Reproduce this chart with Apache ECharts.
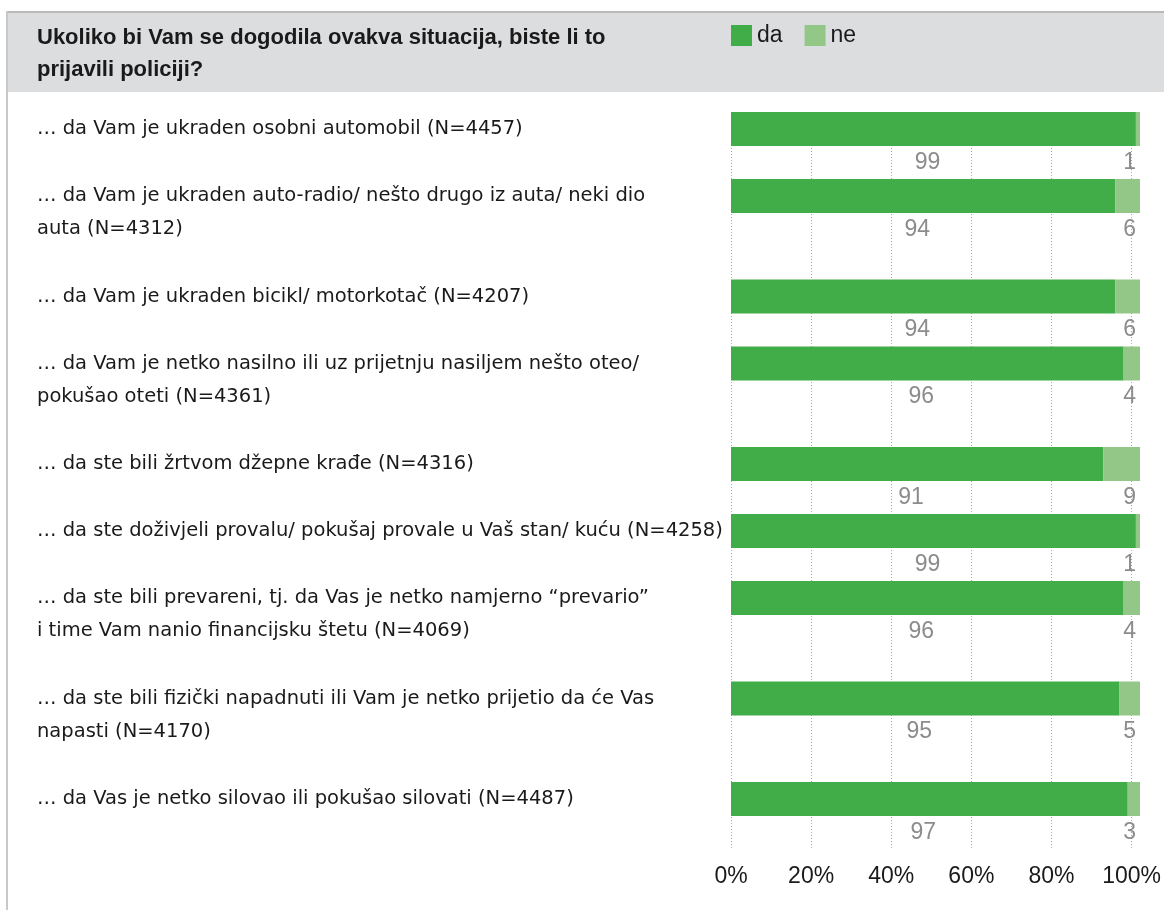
<!DOCTYPE html>
<html>
<head>
<meta charset="utf-8">
<script src="https://cdn.jsdelivr.net/npm/echarts@6/dist/echarts.min.js"></script>
<style>
  html, body { margin: 0; padding: 0; background: #fff; }
  #chart { width: 1164px; height: 910px; }
</style>
</head>
<body>
<div id="chart"></div>
<script>
const titleText = 'Ukoliko bi Vam se dogodila ovakva situacija, biste li to\nprijavili policiji?';
const categories = [
  '… da Vam je ukraden osobni automobil (N=4457)',
  '… da Vam je ukraden auto-radio/ nešto drugo iz auta/ neki dio\nauta (N=4312)',
  '… da Vam je ukraden bicikl/ motorkotač (N=4207)',
  '… da Vam je netko nasilno ili uz prijetnju nasiljem nešto oteo/\npokušao oteti (N=4361)',
  '… da ste bili žrtvom džepne krađe (N=4316)',
  '… da ste doživjeli provalu/ pokušaj provale u Vaš stan/ kuću (N=4258)',
  '… da ste bili prevareni, tj. da Vas je netko namjerno “prevario”\ni time Vam nanio financijsku štetu (N=4069)',
  '… da ste bili fizički napadnuti ili Vam je netko prijetio da će Vas\nnapasti (N=4170)',
  '… da Vas je netko silovao ili pokušao silovati (N=4487)'
];
const seriesNames = ['da', 'ne'];
const daValues = [99, 94, 94, 96, 91, 99, 96, 95, 97];
const neValues = [1, 6, 6, 4, 9, 1, 4, 5, 3];
const xTicks = [0, 20, 40, 60, 80, 100];

const GREEN = '#41ad49';
const LIGHT = '#93c787';
const LABEL_GRAY = '#8c8c8c';
const FONT = 'Liberation Sans';
const CAT_FONT = 'DejaVu Sans';

const plotLeft = 731, plotRight = 24, plotTop = 112;
const singleRow = 67, doubleRow = 100.5, barH = 34;

const grids = [], xAxes = [], yAxes = [], series = [];

let totalH = 0;
const tops = categories.map(c => {
  const t = plotTop + totalH;
  totalH += c.includes('\n') ? doubleRow : singleRow;
  return t;
});
grids.push({ left: plotLeft, right: plotRight, top: plotTop, height: totalH });
xAxes.push({
  gridIndex: 0, type: 'value', min: 0, max: 100, interval: 20,
  axisLine: { show: false }, axisTick: { show: false },
  splitLine: { show: true, lineStyle: { color: '#a8a8a8', width: 1, type: [1, 2] } },
  axisLabel: { margin: 16, fontFamily: FONT, fontSize: 23, color: '#1a1a1a',
    formatter: v => xTicks.includes(v) ? v + '%' : '' }
});
yAxes.push({ gridIndex: 0, type: 'category', data: [''], show: false });

categories.forEach((cat, i) => {
  const gi = i + 1;
  grids.push({ left: plotLeft, right: plotRight, top: tops[i], height: barH });
  xAxes.push({ gridIndex: gi, type: 'value', min: 0, max: 100, show: false, splitLine: { show: false } });
  yAxes.push({
    gridIndex: gi, type: 'category', data: [cat],
    axisLine: { show: false }, axisTick: { show: false }, splitLine: { show: false },
    axisLabel: {
      align: 'left', margin: plotLeft - 37, fontFamily: CAT_FONT, fontSize: 19.5,
      color: '#1a1a1a', lineHeight: 33, verticalAlign: 'middle',
      formatter: v => v.includes('\n') ? '\n' + v : v
    }
  });
  series.push({
    name: seriesNames[0], type: 'bar', stack: 's' + i, xAxisIndex: gi, yAxisIndex: gi,
    barWidth: '100%', data: [daValues[i]], itemStyle: { color: GREEN },
    label: { show: true, position: 'bottom', distance: 5, offset: [-6, 0],
      fontFamily: FONT, fontSize: 23, color: LABEL_GRAY },
    silent: true
  });
  series.push({
    name: seriesNames[1], type: 'bar', stack: 's' + i, xAxisIndex: gi, yAxisIndex: gi,
    barWidth: '100%', data: [neValues[i]], itemStyle: { color: LIGHT },
    label: { show: true, position: ['100%', '100%'], align: 'right', verticalAlign: 'top',
      offset: [-4, 5], fontFamily: FONT, fontSize: 23, color: LABEL_GRAY },
    silent: true
  });
});

const chart = echarts.init(document.getElementById('chart'), null, { renderer: 'canvas' });
chart.setOption({
  animation: false,
  backgroundColor: '#ffffff',
  title: {
    text: titleText, left: 37, top: 22, padding: 0,
    textStyle: { fontFamily: FONT, fontSize: 22, fontWeight: 'bold', color: '#1a1a1a', lineHeight: 32 }
  },
  legend: {
    data: seriesNames, left: 731, top: 24, padding: 0,
    icon: 'rect', itemWidth: 21, itemHeight: 21, itemGap: 22,
    textStyle: { fontFamily: FONT, fontSize: 23, color: '#1a1a1a', padding: [0, 0, 0, 0] },
    selectedMode: false
  },
  graphic: [
    { type: 'rect', z: -10, shape: { x: 8, y: 12, width: 1156, height: 80 }, style: { fill: '#dcdddf' } },
    { type: 'rect', z: -9, shape: { x: 8, y: 11, width: 1156, height: 2 }, style: { fill: '#b9b9b9' } },
    { type: 'rect', z: -9, shape: { x: 6, y: 11, width: 2, height: 899 }, style: { fill: '#c8c8c8' } }
  ],
  grid: grids,
  xAxis: xAxes,
  yAxis: yAxes,
  series: series
});
</script>
</body>
</html>
